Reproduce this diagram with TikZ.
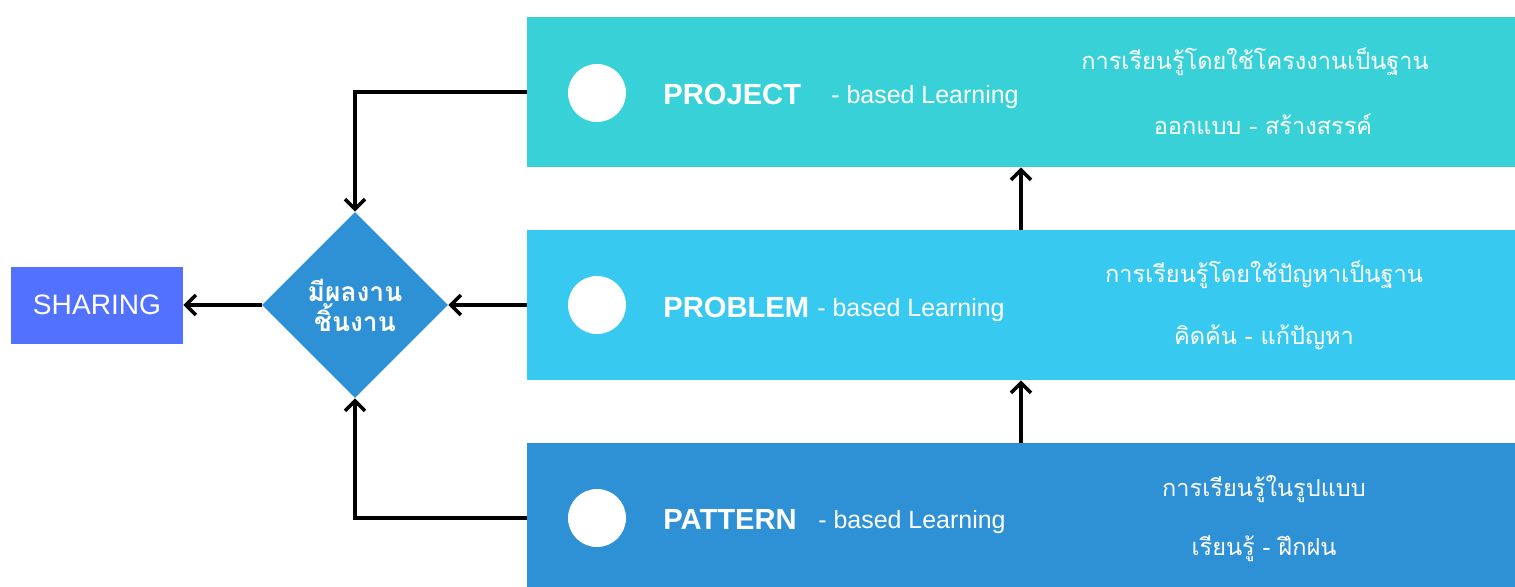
\documentclass[tikz,border=0pt]{standalone}
\usepackage{fontspec}
\setmainfont{Liberation Sans}
\newfontfamily\thaifont[Script=Thai]{Loma}
\usetikzlibrary{shapes.geometric,arrows.meta}

\definecolor{projectcol}{HTML}{37D1D7}
\definecolor{problemcol}{HTML}{38C9F0}
\definecolor{patterncol}{HTML}{2E90D5}
\definecolor{sharecol}{HTML}{5271FF}

\begin{document}
\begin{tikzpicture}[x=0.02cm,y=-0.02cm]
    % Stili
    \tikzstyle{band}=[minimum width=19.76cm, minimum height=3cm, inner sep=0pt]
    \tikzstyle{dot}=[circle, fill=white, minimum size=1.16cm, inner sep=0pt]
    \tikzstyle{title}=[anchor=base west, inner sep=0pt, text=white, font=\fontsize{16.6}{20}\selectfont\bfseries]
    \tikzstyle{based}=[anchor=base west, inner sep=0pt, text=white, font=\fontsize{14.2}{17}\selectfont]
    \tikzstyle{thai}=[inner sep=0pt, text=white, font=\thaifont\fontsize{13.4}{16}\selectfont]
    \tikzstyle{reference}=[-{Straight Barb[length=2mm,width=4mm]}, line width=2pt, black]

    \clip (0,0) rectangle (1515,586);

    % Fasce dei tre livelli
    \node[band, fill=projectcol] (project) at (1021,92) {};
    \node[band, fill=problemcol] (problem) at (1021,305) {};
    \node[band, fill=patterncol] (pattern) at (1021,518) {};

    % Risultato e condivisione
    \node[diamond, fill=patterncol, minimum width=3.72cm, minimum height=3.72cm, inner sep=0pt,
          text=white, align=center, font=\thaifont\bfseries\fontsize{15}{17}\selectfont] (decision) at (355,305) {มีผลงาน\\ชิ้นงาน};
    \node[fill=sharecol, minimum width=3.44cm, minimum height=1.54cm, inner sep=0pt,
          text=white, font=\fontsize{16}{19}\selectfont] (sharing) at (97,305) {SHARING};

    % Cerchi
    \node[dot] (projdot) at (597,93) {};
    \node[dot] (probdot) at (597,305) {};
    \node[dot] (pattdot) at (597,518) {};

    % Testi PROJECT
    \node[title] (projtitle) at (663,104) {PROJECT};
    \node[based] (projbased) at (831,103) {- based Learning};
    \node[thai] (projthaia) at (1255,62) {การเรียนรู้โดยใช้โครงงานเป็นฐาน};
    \node[thai] (projthaib) at (1263,124) {ออกแบบ - สร้างสรรค์};

    % Testi PROBLEM
    \node[title] (probtitle) at (663,317) {PROBLEM};
    \node[based] (probbased) at (817,316) {- based Learning};
    \node[thai] (probthaia) at (1264,275) {การเรียนรู้โดยใช้ปัญหาเป็นฐาน};
    \node[thai] (probthaib) at (1264,337) {คิดค้น - แก้ปัญหา};

    % Testi PATTERN
    \node[title] (patttitle) at (663,529) {PATTERN};
    \node[based] (pattbased) at (818,528) {- based Learning};
    \node[thai] (pattthaia) at (1264,489) {การเรียนรู้ในรูปแบบ};
    \node[thai] (pattthaib) at (1264,549) {เรียนรู้ - ฝึกฝน};

    % Frecce
    \draw[reference] (project.west) -| (decision.north);
    \draw[reference] (problem.west) -- (decision.east);
    \draw[reference] (pattern.west) -| (decision.south);
    \draw[reference] (decision.west) -- (sharing.east);
    \draw[reference] (problem.north) -- (project.south);
    \draw[reference] (pattern.north) -- (problem.south);
\end{tikzpicture}
\end{document}
